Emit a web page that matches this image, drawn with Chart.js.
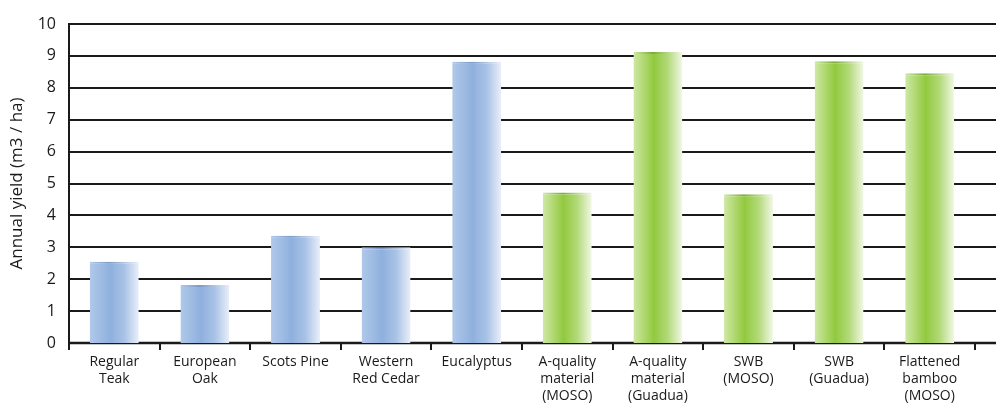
<!DOCTYPE html>
<html>
<head>
<meta charset="utf-8">
<script src="https://cdn.jsdelivr.net/npm/chart.js@4/dist/chart.umd.min.js"></script>
<style>
  html, body { margin: 0; padding: 0; background: #ffffff; }
  #wrap { width: 996px; height: 405px; position: relative; }
</style>
</head>
<body>
<div id="wrap"><canvas id="c" width="996" height="405"></canvas></div>
<script>
const categories = [
  ["Regular", "Teak"],
  ["European", "Oak"],
  ["Scots Pine"],
  ["Western", "Red Cedar"],
  ["Eucalyptus"],
  ["A-quality", "material", "(MOSO)"],
  ["A-quality", "material", "(Guadua)"],
  ["SWB", "(MOSO)"],
  ["SWB", "(Guadua)"],
  ["Flattened", "bamboo", "(MOSO)"]
];
const annualYield = [2.55, 1.82, 3.36, 3.0, 8.82, 4.72, 9.12, 4.66, 8.83, 8.46];
const groupType = ["wood", "wood", "wood", "wood", "wood", "bamboo", "bamboo", "bamboo", "bamboo", "bamboo"];
const yTicks = [0, 1, 2, 3, 4, 5, 6, 7, 8, 9, 10];

const FONT = "'Open Sans', 'Noto Sans', sans-serif";
const BAR_PCT = 0.54;

const palettes = {
  wood:   { stops: ["#b0c8ea", "#8fb0dd", "#a8c2e6", "#e9eff9"], top: "#7b9bc6" },
  bamboo: { stops: ["#cfe8a5", "#92c93f", "#b2d978", "#f2f8e6"], top: "#7aae36" }
};

function barGradient(ctx, isBorder) {
  const chart = ctx.chart;
  const area = chart.chartArea;
  const p = palettes[groupType[ctx.dataIndex]];
  if (!area || !chart.scales.x) return isBorder ? p.top : p.stops[1];
  const xs = chart.scales.x;
  const cx = xs.getPixelForValue(ctx.dataIndex);
  const w = (xs.width / categories.length) * BAR_PCT;
  const g = chart.ctx.createLinearGradient(cx - w / 2, 0, cx + w / 2, 0);
  if (isBorder) {
    g.addColorStop(0, p.stops[0]);
    g.addColorStop(0.4, p.top);
    g.addColorStop(1, p.stops[3]);
  } else {
    g.addColorStop(0, p.stops[0]);
    g.addColorStop(0.42, p.stops[1]);
    g.addColorStop(0.7, p.stops[2]);
    g.addColorStop(1, p.stops[3]);
  }
  return g;
}

const gridPlugin = {
  id: 'extGrid',
  beforeDatasetsDraw(chart) {
    const c = chart.ctx;
    const ys = chart.scales.y;
    const left = chart.chartArea.left;
    c.save();
    c.strokeStyle = '#1a1a1a';
    yTicks.forEach(v => {
      const y = Math.round(ys.getPixelForValue(v));
      c.lineWidth = v === 0 ? 2.5 : 2;
      c.beginPath();
      c.moveTo(left, y);
      c.lineTo(chart.width, y);
      c.stroke();
    });
    c.restore();
  }
};

new Chart(document.getElementById('c'), {
  type: 'bar',
  data: {
    labels: categories,
    datasets: [{
      data: annualYield,
      backgroundColor: (ctx) => barGradient(ctx, false),
      borderColor: (ctx) => barGradient(ctx, true),
      borderWidth: { top: 2, left: 0, right: 0, bottom: 0 },
      borderSkipped: 'bottom',
      barPercentage: BAR_PCT,
      categoryPercentage: 1.0
    }]
  },
  options: {
    responsive: false,
    animation: false,
    devicePixelRatio: 1,
    layout: { padding: { top: 24, right: 21, left: 0, bottom: 0 } },
    plugins: {
      legend: { display: false },
      tooltip: { enabled: false }
    },
    scales: {
      x: {
        offset: true,
        afterFit: (s) => { s.height = 62; },
        grid: {
          offset: true,
          drawOnChartArea: false,
          drawTicks: true,
          tickLength: 7,
          color: '#1a1a1a',
          lineWidth: 2
        },
        border: { display: true, color: '#1a1a1a', width: 2 },
        ticks: {
          color: '#1a1a1a',
          font: { family: FONT, size: 14, lineHeight: 1.2 },
          padding: 4,
          maxRotation: 0,
          autoSkip: false
        }
      },
      y: {
        min: 0,
        max: 10,
        afterFit: (s) => { s.width = 69; },
        afterBuildTicks: (s) => { s.ticks = yTicks.map(v => ({ value: v })); },
        grid: { display: false, drawTicks: false },
        border: { display: true, color: '#1a1a1a', width: 2 },
        ticks: {
          color: '#1a1a1a',
          font: { family: FONT, size: 16 },
          padding: 13
        },
        title: {
          display: true,
          text: 'Annual yield (m3 / ha)',
          color: '#1a1a1a',
          font: { family: FONT, size: 17 },
          padding: { top: 7, bottom: 0 }
        }
      }
    }
  },
  plugins: [gridPlugin]
});
</script>
</body>
</html>
